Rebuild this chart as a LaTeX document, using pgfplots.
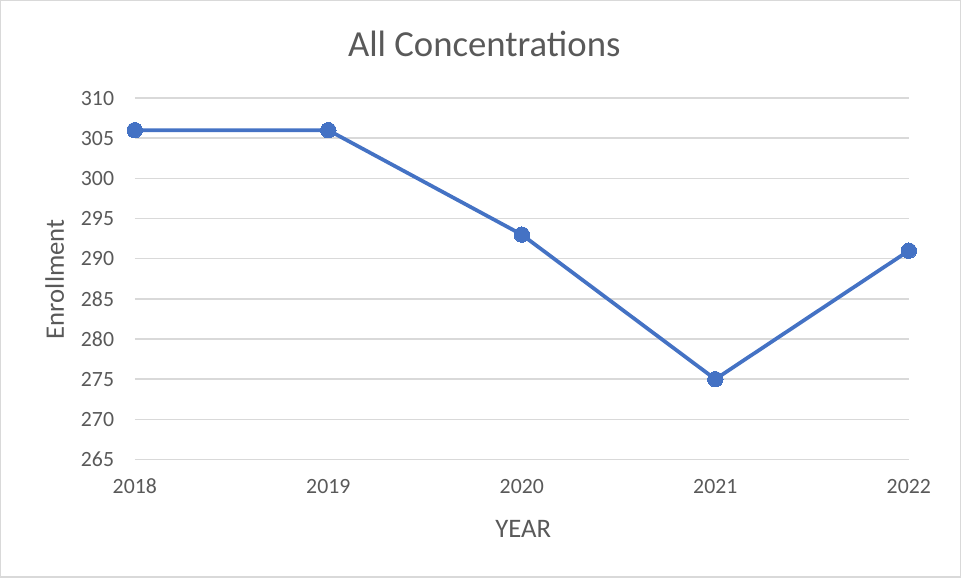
\documentclass[border=0pt]{standalone}
\usepackage{pgfplots}
\pgfplotsset{compat=1.18}
\usepackage{fontspec}
\setmainfont{Carlito}
\definecolor{txt}{HTML}{595959}
\definecolor{gridc}{HTML}{D9D9D9}
\definecolor{linec}{HTML}{4472C4}
\begin{document}
\begin{tikzpicture}
\draw[color=gridc, line width=1pt] (0.8pt,0.5pt) rectangle (719.6pt,432.2pt);
\begin{axis}[
  at={(101.25pt,88.5pt)}, anchor=south west,
  scale only axis, width=579.75pt, height=270.75pt,
  xmin=2018, xmax=2022, ymin=265, ymax=310,
  xtick={2018,2019,2020,2021,2022},
  ytick={265,270,...,310},
  xticklabel style={/pgf/number format/1000 sep={}},
  /pgf/number format/assume math mode=true,
  tick label style={font=\fontsize{16.3pt}{19pt}\selectfont, text=txt},
  yticklabel style={anchor=east, xshift=-12pt},
  xticklabel style={anchor=north, yshift=-11pt},
  axis line style={draw=none},
  major tick length=0pt,
  xmajorgrids=false, ymajorgrids=true,
  y grid style={color=gridc, line width=1.1pt},
  clip=false,
]
\addplot[color=linec, line width=2.8pt, mark=*, mark size=5.8pt, mark options={fill=linec, draw=linec, line width=0pt}]
  coordinates {(2018,306) (2019,306) (2020,293) (2021,275) (2022,291)};
\end{axis}
\node[text=txt, font=\fontsize{27.5pt}{32pt}\selectfont] at (363pt,399.75pt) {All Concentrations};
\node[text=txt, font=\fontsize{20pt}{24pt}\selectfont, rotate=90] at (41.25pt,223.5pt) {Enrollment};
\node[text=txt, font=\fontsize{20pt}{24pt}\selectfont] at (392.25pt,36.75pt) {YEAR};
\end{tikzpicture}
\end{document}
